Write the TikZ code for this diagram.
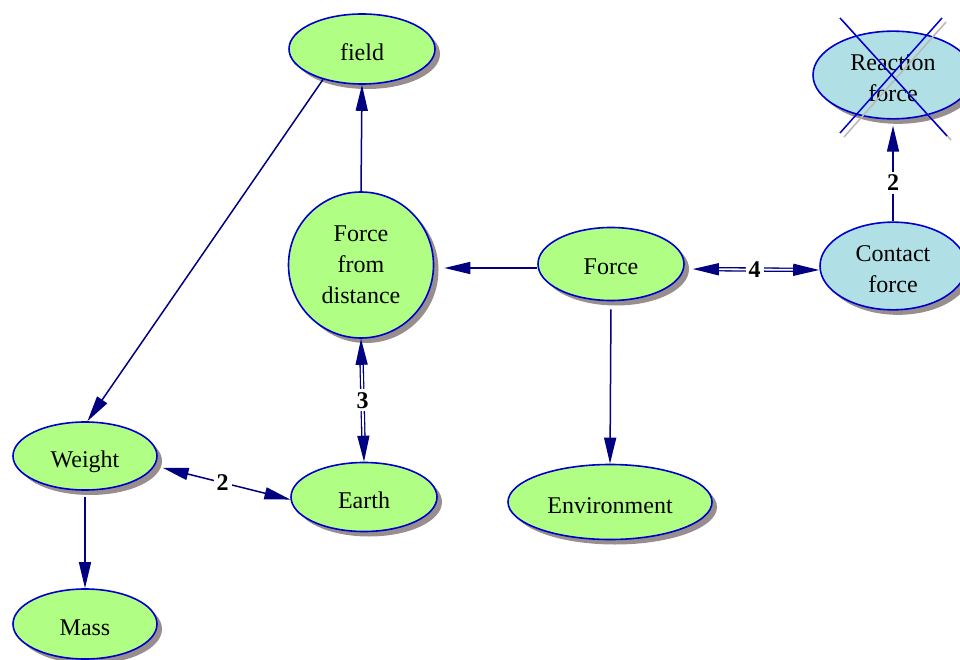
\documentclass[tikz,border=0pt]{standalone}
\usepackage{fontspec}
\setmainfont{Liberation Serif}
\usetikzlibrary{shapes.geometric,arrows.meta,shadows}

\definecolor{nodegreen}{RGB}{176,255,132}
\definecolor{nodecyan}{RGB}{176,224,230}
\definecolor{rimblue}{RGB}{0,0,204}
\definecolor{linknavy}{RGB}{0,0,128}
\definecolor{shadowgray}{RGB}{152,142,142}
\definecolor{crossgray}{RGB}{190,182,182}

% centred text block, drawn a little lower than the middle of its ellipse
\newcommand\conceptlabel[2][5pt]{\raisebox{-#1}[\height][\depth]{\begin{tabular}{@{}c@{}}#2\end{tabular}}}

\tikzset{
  concept/.style={ellipse, draw=rimblue, line width=1.6pt, fill=nodegreen,
    inner sep=0pt, font=\fontsize{24}{31}\selectfont,
    drop shadow={shadow xshift=5pt, shadow yshift=-5pt, fill=shadowgray, opacity=1}},
  cyanconcept/.style={concept, fill=nodecyan},
  link/.style={draw=linknavy, line width=1.5pt},
  tip/.tip={Triangle[length=26pt,width=12pt]},
  twin/.style={link, double=white, double distance=1.8pt, line width=1.3pt},
  lbl/.style={fill=white, inner sep=3pt, font=\fontsize{24}{28}\selectfont\bfseries},
}

\begin{document}
\begin{tikzpicture}[x=1pt, y=-1pt]
  \useasboundingbox (0,0) rectangle (960,660);
  \fill[white] (0,0) rectangle (960,660);

  % concepts
  \node[concept, minimum width=146pt, minimum height=70pt] (field) at (362,49) {\conceptlabel{field}};
  \node[concept, minimum width=145pt, minimum height=146pt] (frd) at (361,265) {\conceptlabel[1pt]{Force\\from\\distance}};
  \node[concept, minimum width=146pt, minimum height=73pt] (force) at (611,264) {\conceptlabel[4pt]{Force}};
  \node[cyanconcept, minimum width=146pt, minimum height=86pt] (contact) at (893,266) {\conceptlabel{Contact\\force}};
  \node[cyanconcept, minimum width=160pt, minimum height=86pt] (reaction) at (893,75) {\conceptlabel{Reaction\\force}};
  \node[concept, minimum width=204pt, minimum height=75pt] (env) at (610,502) {\conceptlabel{Environment}};
  \node[concept, minimum width=144pt, minimum height=68pt] (weight) at (85,456) {\conceptlabel{Weight}};
  \node[concept, minimum width=146pt, minimum height=69pt] (earth) at (364,497) {\conceptlabel{Earth}};
  \node[concept, minimum width=144pt, minimum height=70pt] (mass) at (85,624) {\conceptlabel{Mass}};

  % crossed-out mark over the reaction force
  \coordinate (xa) at (840,18);  \coordinate (xb) at (947,136);
  \coordinate (xc) at (942,18);  \coordinate (xd) at (840,133);
  \draw[crossgray, line width=1.5pt] ([shift={(4pt,-4pt)}]xa) -- ([shift={(4pt,-4pt)}]xb);
  \draw[crossgray, line width=1.5pt] ([shift={(4pt,-4pt)}]xc) -- ([shift={(4pt,-4pt)}]xd);
  \draw[rimblue, line width=1.5pt] (xa) -- (xb);
  \draw[rimblue, line width=1.5pt] (xc) -- (xd);

  % links
  \draw[link, -tip] (field.218) -- (weight.86);
  \draw[link, -tip] (frd.north) -- (field.south);
  \draw[link, -tip, shorten >=10pt] ([yshift=-4pt]force.west) -- ([yshift=-3pt]frd.east);
  \draw[link, -tip, shorten <=8pt] (force.south) -- (env.north);
  \draw[twin, tip-tip, shorten <=8pt] ([yshift=-5pt]force.east) -- node[lbl, pos=0.52] {4} ([yshift=-4pt]contact.west);
  \draw[link, -tip, shorten >=6pt] (contact.north) -- node[lbl, pos=0.38] {2} (reaction.south);
  \draw[twin, tip-tip] (frd.south) -- node[lbl] {3} (earth.north);
  \draw[link, tip-tip, shorten <=8pt] (weight.-8) -- node[lbl] {2} (earth.182);
  \draw[link, -tip, shorten <=6pt] (weight.south) -- (mass.north);
\end{tikzpicture}
\end{document}
